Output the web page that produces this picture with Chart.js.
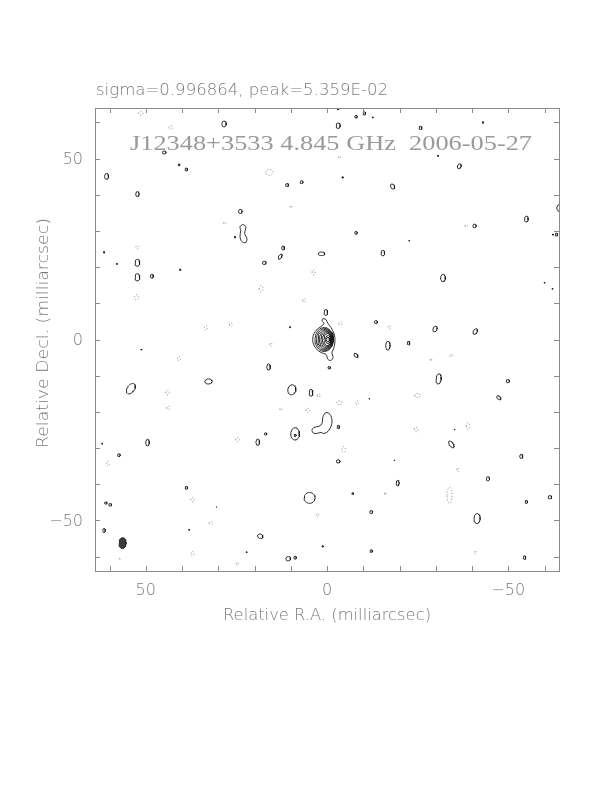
<!DOCTYPE html>
<html><head><meta charset="utf-8">
<script src="https://cdn.jsdelivr.net/npm/chart.js@4.4.1/dist/chart.umd.min.js"></script>
<style>html,body{margin:0;padding:0;background:#fff}#c{display:block}</style>
</head><body>
<canvas id="c" width="612" height="792"></canvas>
<script>
// ---- Labels ----
const headerText = "sigma=0.996864, peak=5.359E-02";
const titleText = "J12348+3533 4.845 GHz  2006-05-27";
const xTitle = "Relative R.A. (milliarcsec)";
const yTitle = "Relative Decl. (milliarcsec)";
const axisRange = [-64, 64];
const tickValues = [-60, -50, -40, -30, -20, -10, 0, 10, 20, 30, 40, 50, 60];
const labelValues = [50, 0, -50];
const labelTexts = ["50", "0", "\u221250"];

// ---- Positive contour blobs (mas): centre, semi-axes, rotation (deg) ----
const posX  = [28.4,44.9,40.8,38.8,60.8,52.3,11.0,7.0,23.9,25.4,12.1,12.9,17.3,1.5,61.5,58.0,52.3,52.3,48.3,40.5,10.2,0.3,-3.1,-8.0,-10.3,-12.6,-25.8,-43.0,-4.3,-30.6,-36.5,-18.1,-64.3,-55.0,-40.7,-63.3,-62.3,-8.0,-22.7,-15.4,-32.0,-60.0,-62.2,-13.5,-29.8,-40.9,16.1,51.2,54.1,32.7,9.7,4.4,8.8,8.8,16.9,19.1,49.5,62.0,57.4,38.8,30.5,61.0,59.8,61.5,38.0,4.8,1.2,18.4,22.2,10.7,8.8,-16.8,-22.5,-8.0,-0.6,-30.8,-49.9,-47.4,-11.7,-3.1,-35.2,-34.3,-3.1,-18.6,-44.4,-53.6,-19.5,-7.1,-55.0,-61.5,-12.2,-41.4,-12.2,-54.5,-3.0];
const posY  = [59.6,51.7,48.3,47.0,45.1,40.2,42.7,43.5,35.4,28.3,25.3,22.9,21.2,23.7,24.1,20.9,21.2,17.2,17.5,19.3,3.4,7.5,59.1,61.6,62.5,61.4,58.5,60.0,44.8,50.8,47.9,42.3,36.4,33.3,31.4,29.0,29.0,29.5,27.3,23.9,17.0,15.7,14.0,4.8,2.9,2.2,-7.6,-2.8,-13.6,-11.6,-13.9,-14.7,-26.1,-26.5,-26.1,-28.4,-28.5,-28.8,-32.0,-41.0,-46.3,-45.2,-45.7,-52.8,-52.6,-43.8,-57.2,-54.4,-58.8,-60.6,-60.3,-1.7,-1.0,-4.4,-7.8,-10.9,-11.5,-16.1,-16.4,-24.2,-24.9,-29.0,-33.7,-33.4,-38.5,-32.3,-39.7,-42.6,-44.9,-43.6,-47.7,-49.5,-58.5,-60.3,63.7];
const posRx = [0.6,0.5,0.25,0.35,0.55,0.45,0.4,0.4,0.5,0.2,0.4,0.4,0.5,0.9,0.2,0.15,0.65,0.65,0.4,0.2,0.15,0.5,0.55,0.35,0.35,0.15,0.4,0.2,0.2,0.15,0.5,0.5,0.9,0.5,0.45,0.35,0.15,0.35,0.12,0.5,0.65,0.15,0.15,0.4,0.55,0.55,0.5,0.15,1.0,1.0,1.1,0.5,1.2,0.3,0.35,0.5,0.5,0.15,0.35,0.35,0.12,0.35,0.4,0.35,0.15,1.5,0.2,0.75,0.15,0.65,0.35,0.6,0.35,0.4,0.35,0.7,0.45,0.4,0.12,0.35,0.12,0.5,0.5,0.12,0.45,0.45,0.4,0.25,0.35,0.5,0.4,0.85,0.35,0.35,0.2];
const posRy = [0.8,0.4,0.25,0.4,0.8,0.7,0.45,0.4,0.55,0.2,0.55,0.8,0.45,0.5,0.2,0.15,0.95,1.0,0.55,0.2,0.15,0.8,0.75,0.4,0.45,0.15,0.45,0.2,0.2,0.15,0.7,0.75,1.0,0.8,0.5,0.4,0.15,0.4,0.12,0.75,1.0,0.15,0.15,0.4,0.8,0.8,0.85,0.15,1.6,0.7,1.4,0.95,1.7,0.3,0.3,0.85,0.9,0.15,0.4,0.4,0.12,0.3,0.35,0.55,0.15,1.5,0.2,0.6,0.15,0.6,0.4,1.2,0.5,0.7,0.35,1.4,0.45,0.7,0.12,0.45,0.12,1.1,0.45,0.12,0.55,0.55,0.75,0.25,0.4,0.45,0.4,1.4,0.35,0.5,0.2];
const posAng= [0,0,0,0,0,0,0,30,0,0,0,30,0,0,0,0,0,0,0,0,0,0,0,0,0,0,0,0,0,0,20,-30,0,0,0,0,0,0,0,0,0,0,0,0,20,30,0,0,35,0,10,0,0,0,0,0,0,0,0,0,0,0,0,0,0,0,0,30,0,0,0,0,0,-40,0,5,0,-45,0,0,0,-35,0,0,0,0,0,0,0,0,0,0,0,0,0];

// ---- Negative (dotted) contour blobs ----
const negX  = [51.4,43.1,15.9,9.9,28.2,52.3,52.5,18.2,6.3,3.7,33.4,26.5,-3.4,-38.4,-17.2,-3.7,15.5,40.8,44.0,43.8,2.3,12.7,5.3,24.7,60.4,37.1,32.0,37.1,2.6,24.7,-28.7,-34.3,-3.4,-8.3,-25.0,-24.6,-38.9,-4.6,-36.1,-16.1,-33.8,-40.9,57.1];
const negY  = [62.5,58.6,46.2,36.7,32.2,25.5,11.7,14.0,10.8,18.6,3.2,4.1,50.4,31.4,3.4,4.4,-1.4,-5.3,-14.7,-18.9,-15.5,-19.3,-19.6,-27.7,-34.3,-44.3,-50.7,-59.2,-48.6,-62.0,-5.6,-4.4,-17.5,-17.5,-15.5,-24.9,-23.9,-30.4,-36.0,-42.6,-43.1,-58.8,-60.6];
const negRx = [0.6,0.5,1.0,0.3,0.3,0.4,0.6,0.5,0.4,0.4,0.4,0.4,0.3,0.4,0.3,0.45,0.3,0.4,0.5,0.4,0.4,0.3,0.5,0.5,0.4,0.5,0.5,0.4,0.3,0.3,0.2,0.4,0.8,0.4,0.8,0.5,0.5,0.5,0.3,0.2,0.7,0.3,0.2];
const negRy = [0.5,0.5,0.8,0.3,0.3,0.4,0.7,0.9,0.5,0.7,0.6,0.5,0.3,0.2,0.5,0.5,0.5,0.6,0.6,0.5,0.5,0.3,0.6,0.6,0.6,0.6,0.4,0.6,0.5,0.4,0.4,0.3,0.5,0.6,0.6,0.6,0.9,0.8,0.5,0.4,2.2,0.4,0.2];

// ---- Irregular contours (vertices in mas) ----
const beanX  = [23.2,22.4,22.7,22.1,22.4,23.5,24.0,23.8,24.0];
const beanY  = [31.8,31.2,29.3,27.9,26.8,27.1,28.5,30.1,31.2];
const southX = [1.66,3.59,4.14,3.59,2.21,1.38,1.10,0.28,-0.83,-1.38,-1.10,-0.28,0.83];
const southY = [-25.7,-25.97,-25.1,-24.3,-24.0,-23.2,-21.3,-20.2,-20.7,-22.4,-24.0,-25.4,-25.97];

// ---- Core: outer contour + nested levels ----
const coreOuterX = [1.10,0.28,-0.28,-1.10,-1.93,-2.21,-1.93,-1.38,-1.66,-1.10,-0.28,0.28,1.66,3.04,3.87,3.87,3.04,1.66,0.83,1.38];
const coreOuterY = [5.80,5.52,4.42,3.31,1.66,-0.28,-2.21,-3.59,-4.97,-5.80,-5.52,-4.14,-3.59,-2.49,-0.83,0.83,2.49,3.59,4.42,5.25];
const coreX  = [0.76,0.62,0.48,0.35,0.21,0.07,-0.14,-0.28,-0.28];
const coreY  = [0,0,0,0,0,0,0,0,0];
const coreRx = [2.56,2.28,2.00,1.73,1.45,1.17,0.97,0.69,0.41];
const coreRy = [3.31,3.04,2.76,2.49,2.21,1.93,1.66,1.10,0.69];

// ---- Beam ----
const beamX = 56.4, beamY = -56.3, beamRx = 0.97, beamRy = 1.5;

// ---- geometry helpers ----
function ellipse(cx, cy, rx, ry, ang, n) {
  n = n || 28;
  const a = ang * Math.PI / 180, pts = [];
  for (let i = 0; i <= n; i++) {
    const t = 2 * Math.PI * i / n;
    const ex = rx * Math.cos(t), ey = ry * Math.sin(t);
    pts.push({x: cx + ex * Math.cos(a) - ey * Math.sin(a), y: cy + ex * Math.sin(a) + ey * Math.cos(a)});
  }
  return pts;
}
function poly(xs, ys) {
  const p = xs.map((x, i) => ({x, y: ys[i]}));
  p.push({x: xs[0], y: ys[0]});
  return p;
}

const LINE = '#1a1a1a';
const datasets = [];
function addLine(data, opts) {
  datasets.push(Object.assign({data, showLine: true, borderColor: LINE, borderWidth: 0.9,
    pointRadius: 0, pointHoverRadius: 0, fill: false, clip: 0, tension: 0}, opts || {}));
}
for (let i = 0; i < posX.length; i++) addLine(ellipse(posX[i], posY[i], posRx[i], posRy[i], posAng[i]));
for (let i = 0; i < negX.length; i++) addLine(ellipse(negX[i], negY[i], negRx[i], negRy[i], 0), {borderColor: '#777', borderDash: [1, 2]});
addLine(poly(beanX, beanY), {tension: 0.35});
addLine(poly(southX, southY), {tension: 0.35});
addLine(poly(coreOuterX, coreOuterY), {tension: 0.3});
for (let i = 0; i < coreX.length; i++) addLine(ellipse(coreX[i], coreY[i], coreRx[i], coreRy[i], 0, 36));
addLine(ellipse(beamX, beamY, beamRx, beamRy, 0, 36), {fill: 'shape', backgroundColor: '#3c3c3c', borderColor: '#222'});

const SANS = '"DejaVu Sans", "Liberation Sans", sans-serif';
const SERIF = '"Liberation Serif", "DejaVu Serif", serif';

function fitText(ctx, text, x, y, targetW, font, color, align) {
  ctx.save();
  ctx.font = font; ctx.fillStyle = color; ctx.textBaseline = 'alphabetic';
  const w = ctx.measureText(text).width;
  const s = targetW ? targetW / w : 1;
  let x0 = x;
  if (align === 'center') x0 = x - w * s / 2;
  if (align === 'right') x0 = x - w * s;
  ctx.translate(x0, y); ctx.scale(s, 1);
  ctx.textAlign = 'left';
  ctx.fillText(text, 0, 0);
  ctx.restore();
}

const framePlugin = {
  id: 'frame',
  afterDraw(chart) {
    const {ctx, chartArea: a, scales: {x, y}} = chart;
    ctx.save();
    ctx.strokeStyle = '#8a8a8a'; ctx.lineWidth = 1;
    ctx.strokeRect(a.left + 0.5, a.top + 0.5, a.right - a.left, a.bottom - a.top);
    ctx.beginPath();
    const L = 5;
    tickValues.forEach(v => {
      const px = Math.round(x.getPixelForValue(v)) + 0.5;
      ctx.moveTo(px, a.bottom); ctx.lineTo(px, a.bottom - L);
      ctx.moveTo(px, a.top); ctx.lineTo(px, a.top + L);
      const py = Math.round(y.getPixelForValue(v)) + 0.5;
      ctx.moveTo(a.left, py); ctx.lineTo(a.left + L, py);
      ctx.moveTo(a.right, py); ctx.lineTo(a.right - L, py);
    });
    ctx.stroke();
    ctx.restore();

    const gray = '#7a7a7a';
    const F = '200 16px ' + SANS;
    labelValues.forEach((v, i) => {
      fitText(ctx, labelTexts[i], x.getPixelForValue(v), 595, 0, F, gray, 'center');
      ctx.save(); ctx.font = F; ctx.fillStyle = gray; ctx.textAlign = 'right'; ctx.textBaseline = 'middle';
      ctx.fillText(labelTexts[i], a.left - 12, y.getPixelForValue(v) + 1);
      ctx.restore();
    });
    fitText(ctx, headerText, 96, 95, 292, '200 15px ' + SANS, gray, 'left');
    fitText(ctx, titleText, 130, 150, 402, '22px ' + SERIF, '#9a9a9a', 'left');
    fitText(ctx, xTitle, (a.left + a.right) / 2, 620, 208, F, gray, 'center');
    ctx.save();
    ctx.translate(48, 333); ctx.rotate(-Math.PI / 2);
    fitText(ctx, yTitle, 0, 0, 230, F, gray, 'center');
    ctx.restore();
  }
};

new Chart(document.getElementById('c'), {
  type: 'scatter',
  data: {datasets},
  options: {
    responsive: false, animation: false, devicePixelRatio: 1,
    layout: {padding: {left: 95, right: 53, top: 108, bottom: 221}},
    plugins: {legend: {display: false}, tooltip: {enabled: false}},
    events: [],
    scales: {
      x: {type: 'linear', min: axisRange[0], max: axisRange[1], reverse: true, display: false},
      y: {type: 'linear', min: axisRange[0], max: axisRange[1], display: false}
    }
  },
  plugins: [framePlugin]
});
</script>
</body></html>
